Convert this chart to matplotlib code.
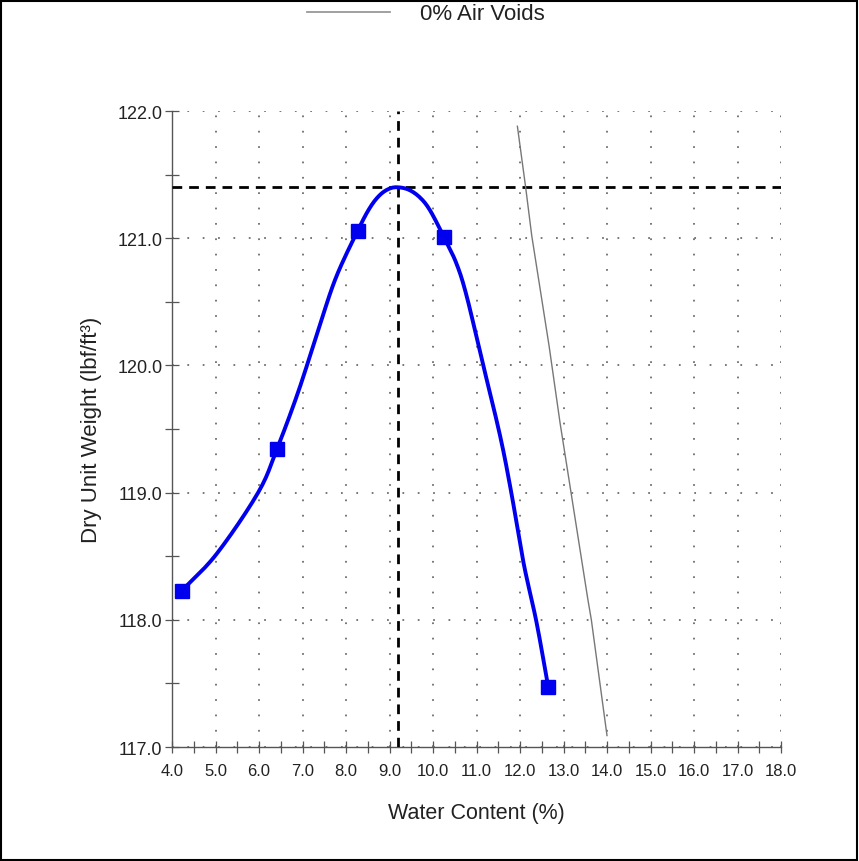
import matplotlib
matplotlib.use("Agg")
import numpy as np
import matplotlib.pyplot as plt
from matplotlib.lines import Line2D
from matplotlib.patches import Rectangle
from matplotlib.ticker import MultipleLocator, FormatStrFormatter

plt.rcParams['font.family'] = ['Liberation Sans', 'DejaVu Sans']

# Test points
water_pts = [4.23, 6.41, 8.27, 10.25, 12.65]
dry_pts = [118.23, 119.34, 121.06, 121.01, 117.47]

# Fitted compaction curve
curve_w = [4.23, 5.03, 5.98, 6.41, 6.91, 7.4, 7.78, 8.27, 8.55, 8.78, 9.0, 9.2,
           9.45, 9.7, 9.93, 10.25, 10.54, 10.77, 11.12, 11.54, 11.80,
           12.08, 12.38, 12.65]
curve_d = [118.23, 118.52, 119.0, 119.34, 119.80, 120.32, 120.70, 121.06, 121.24,
           121.34, 121.39, 121.40, 121.38, 121.32, 121.22, 121.01, 120.80, 120.55,
           120.05, 119.45, 119.0, 118.45, 117.98, 117.47]

# Zero air voids line
zav_w = [11.94, 12.13, 12.27, 12.67, 12.92, 13.56, 13.64, 14.0]
zav_d = [121.88, 121.40, 121.02, 120.15, 119.55, 118.16, 118.0, 117.09]

# Optimum
opt_w = 9.2
opt_d = 121.40


def smooth_path(xs, ys, n=12):
    """Catmull-Rom rendering through the read points (drawing only)."""
    x = np.asarray(xs, float)
    y = np.asarray(ys, float)
    px = np.concatenate([[2 * x[0] - x[1]], x, [2 * x[-1] - x[-2]]])
    py = np.concatenate([[2 * y[0] - y[1]], y, [2 * y[-1] - y[-2]]])
    ox, oy = [], []
    t = np.linspace(0, 1, n, endpoint=False)
    for i in range(1, len(px) - 2):
        for arr, out in ((px, ox), (py, oy)):
            p0, p1, p2, p3 = arr[i - 1], arr[i], arr[i + 1], arr[i + 2]
            out.extend(0.5 * ((2 * p1) + (-p0 + p2) * t
                              + (2 * p0 - 5 * p1 + 4 * p2 - p3) * t ** 2
                              + (-p0 + 3 * p1 - 3 * p2 + p3) * t ** 3))
    ox.append(x[-1])
    oy.append(y[-1])
    return ox, oy


fig = plt.figure(figsize=(8.59, 8.62), dpi=100)
ax = fig.add_axes([172/859, 1-748/862, (781-172)/859, (748-112)/862])

ax.set_xlim(4.0, 18.0)
ax.set_ylim(117.0, 122.0)

ax.xaxis.set_major_locator(MultipleLocator(1.0))
ax.xaxis.set_minor_locator(MultipleLocator(0.5))
ax.yaxis.set_major_locator(MultipleLocator(1.0))
ax.yaxis.set_minor_locator(MultipleLocator(0.5))
ax.xaxis.set_major_formatter(FormatStrFormatter('%.1f'))
ax.yaxis.set_major_formatter(FormatStrFormatter('%.1f'))

ax.grid(True, which='major', linestyle=(0, (0.9, 7)), color='#777777', linewidth=1.4)
for s in ['top', 'right']:
    ax.spines[s].set_visible(False)
for s in ['left', 'bottom']:
    ax.spines[s].set_color('#555555')
    ax.spines[s].set_linewidth(1.0)

ax.tick_params(axis='x', which='both', direction='inout', length=9, width=0.9,
               color='#555555', labelsize=12, pad=7, labelcolor='#222222')
ax.tick_params(axis='y', which='both', direction='inout', length=10, width=0.9,
               color='#555555', labelsize=13, pad=2, labelcolor='#222222')

ax.axvline(opt_w, color='black', linestyle=(0, (3.5, 2.5)), linewidth=2.0, zorder=3)
ax.axhline(opt_d, color='black', linestyle=(0, (3.5, 2.5)), linewidth=2.0, zorder=3)

ax.plot(zav_w, zav_d, color='#777777', linewidth=1.0, zorder=3)
sx, sy = smooth_path(curve_w, curve_d)
ax.plot(sx, sy, color='#0000ee', linewidth=2.8, zorder=4, solid_capstyle='round')
ax.plot(water_pts, dry_pts, linestyle='none', marker='s', markersize=10,
        color='#0000ee', zorder=5)

ax.set_xlabel('Water Content (%)', fontsize=15.5, labelpad=17, color='#222222')
ax.set_ylabel('Dry Unit Weight (lbf/ft³)', fontsize=16, labelpad=11, color='#222222')

# Legend at top
fig.add_artist(Line2D([307/859, 390/859], [1-13/862, 1-13/862],
                      transform=fig.transFigure, color='#999999', linewidth=1.3))
fig.text(420/859, 1-15/862, '0% Air Voids', fontsize=16, va='center', ha='left',
         color='#222222')

# Frame
fig.add_artist(Rectangle((0.001, 0.001), 0.997, 0.997, transform=fig.transFigure,
                         fill=False, edgecolor='black', linewidth=1.5))

fig.savefig('out.png', dpi=100)
